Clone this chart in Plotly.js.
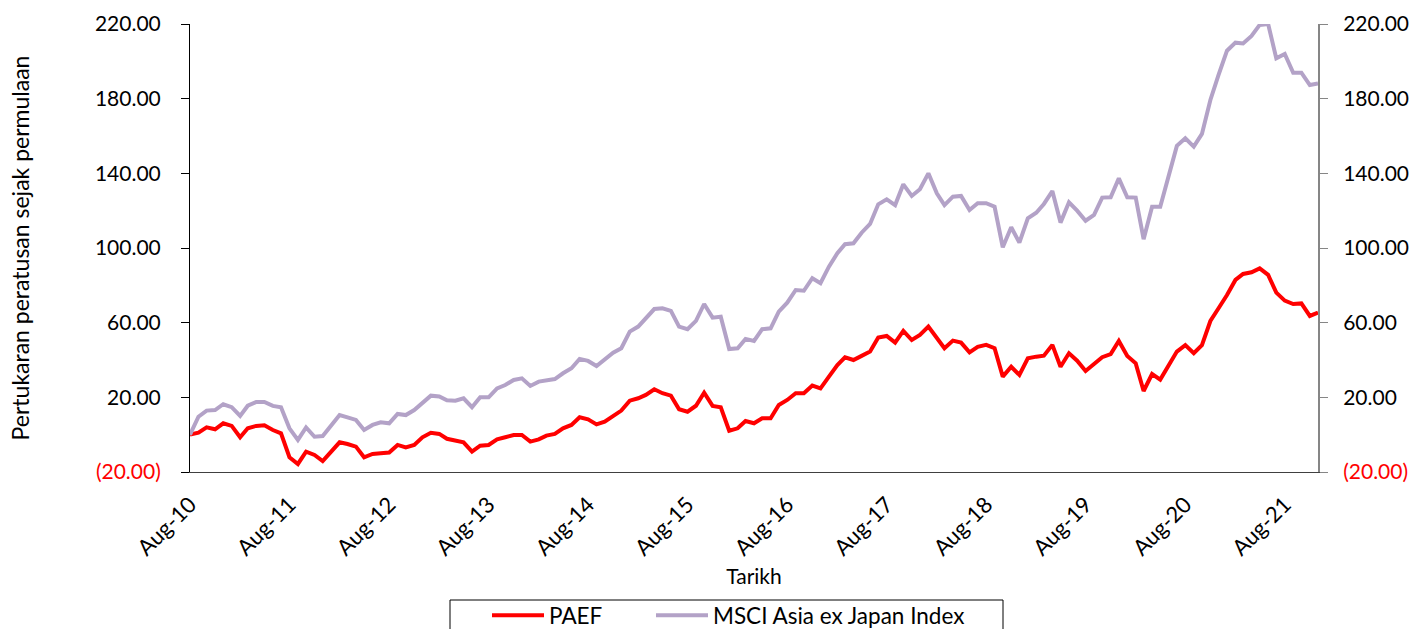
<!DOCTYPE html>
<html>
<head>
<meta charset="utf-8">
<script src="https://cdn.plot.ly/plotly-3.0.1.min.js"></script>
<style>
  html, body { margin: 0; padding: 0; background: #ffffff; }
  #chart { width: 1415px; height: 629px; }
</style>
</head>
<body>
<div id="chart"></div>
<script>
// Monthly observations, Aug-2010 .. Dec-2021 (percentage change since inception)
const startYear = 2010;
const startMonth = 8;   // August
const paef = [
  0, 1.1, 3.9, 2.9, 6.1, 4.7, -1.4, 3.4, 4.7, 5.0, 2.5, 0.7,
  -12.1, -15.7, -9.1, -10.9, -14.1, -9.1, -4.1, -5.0, -6.4, -12.1, -10.3, -10.0,
  -9.6, -5.5, -6.8, -5.5, -1.4, 1.0, 0.4, -2.2, -3.4, -4.1, -9.1, -5.9,
  -5.5, -2.5, -1.4, -0.2, -0.2, -3.7, -2.5, -0.5, 0.4, 3.4, 5.2, 9.3,
  8.2, 5.5, 7.0, 10.0, 12.9, 18.2, 19.5, 21.3, 24.3, 22.2, 20.9, 13.6,
  12.3, 15.5, 22.5, 15.4, 14.7, 2.1, 3.4, 7.3, 6.1, 8.8, 8.8, 15.9,
  18.6, 22.2, 22.2, 26.3, 24.8, 31.1, 37.3, 41.4, 40.0, 42.2, 44.5, 52.0,
  52.9, 49.3, 55.6, 50.7, 53.4, 57.9, 52.2, 46.3, 50.4, 49.3, 44.1, 47.1,
  48.1, 46.3, 31.1, 36.4, 32.0, 40.9, 41.8, 42.3, 48.1, 36.4, 43.6, 39.6,
  34.1, 37.7, 41.5, 43.2, 50.2, 42.2, 38.2, 23.4, 32.5, 29.5, 37.0, 44.5,
  48.0, 43.6, 48.0, 60.9, 67.7, 74.8, 82.9, 86.1, 87.0, 89.1, 85.6, 76.1,
  71.8, 70.0, 70.3, 63.6, 65.4
];
const msci = [
  0, 9.6, 12.9, 13.2, 16.3, 14.7, 10.0, 15.5, 17.5, 17.5, 15.4, 14.7,
  3.4, -2.8, 3.9, -1.1, -0.7, 5.2, 10.5, 9.3, 7.9, 2.5, 5.2, 6.6,
  6.1, 11.1, 10.5, 13.2, 17.1, 20.9, 20.5, 18.4, 18.2, 19.5, 14.7, 20.0,
  20.0, 24.8, 26.6, 29.3, 30.2, 26.1, 28.4, 29.0, 29.8, 32.9, 35.6, 40.6,
  39.5, 36.8, 40.0, 43.9, 46.3, 55.2, 57.9, 62.4, 67.3, 67.7, 66.3, 57.9,
  56.5, 61.0, 70.0, 62.7, 63.2, 45.9, 46.3, 51.3, 50.2, 56.5, 57.0, 65.9,
  70.7, 77.5, 77.1, 83.8, 81.1, 90.0, 97.2, 102.0, 102.5, 108.2, 112.9, 123.4,
  126.1, 123.0, 134.1, 127.9, 131.5, 140.0, 129.3, 123.0, 127.5, 127.9, 120.4, 124.0,
  124.0, 122.1, 100.4, 111.1, 102.9, 115.9, 118.9, 123.6, 130.5, 113.6, 124.5, 120.0,
  114.6, 117.7, 127.0, 127.2, 137.3, 127.2, 127.0, 104.7, 122.1, 122.1, 138.2, 154.7,
  158.8, 154.3, 161.1, 179.3, 192.7, 205.7, 210.0, 209.6, 213.6, 219.5, 220.0, 201.6,
  203.9, 193.9, 193.9, 187.3, 188.2
];
const seriesNames = ['PAEF', 'MSCI Asia ex Japan Index'];
const yTickVals = [-20, 20, 60, 100, 140, 180, 220];
const yTickText = ['<span style="color:#FF0000">(20.00)</span>', '20.00', '60.00', '100.00', '140.00', '180.00', '220.00'];

// month dates for the date axis
const dates = paef.map((_, i) => {
  const m0 = startMonth - 1 + i;
  const y = startYear + Math.floor(m0 / 12);
  const m = (m0 % 12) + 1;
  return y + '-' + String(m).padStart(2, '0') + '-01';
});

const FONT = 'Lato, "Open Sans", "Liberation Sans", sans-serif';

const traces = [
  { x: dates, y: paef, name: seriesNames[0], type: 'scatter', mode: 'lines',
    line: { color: '#FF0000', width: 4 }, xaxis: 'x', yaxis: 'y', legend: 'legend' },
  { x: dates, y: msci, name: seriesNames[1], type: 'scatter', mode: 'lines',
    line: { color: '#B3A2C7', width: 4 }, xaxis: 'x', yaxis: 'y', legend: 'legend2' },
  // invisible trace to activate the secondary (right) axis
  { x: [dates[0]], y: [null], type: 'scatter', mode: 'lines', showlegend: false,
    hoverinfo: 'skip', xaxis: 'x', yaxis: 'y2' }
];

const legendCommon = {
  orientation: 'h', xref: 'container', yref: 'container',
  xanchor: 'left', yanchor: 'top', y: 35 / 629,
  borderwidth: 0, bgcolor: 'rgba(0,0,0,0)',
  font: { family: FONT, size: 22.5, color: '#000000' },
  itemwidth: 52
};

const layout = {
  width: 1415, height: 629,
  paper_bgcolor: '#ffffff', plot_bgcolor: '#ffffff',
  margin: { l: 190, r: 97, t: 24, b: 157, pad: 0, autoexpand: false },
  font: { family: FONT, size: 21, color: '#000000' },
  showlegend: true,
  legend: Object.assign({}, legendCommon, { x: 487 / 1415 }),
  legend2: Object.assign({}, legendCommon, { x: 651 / 1415 }),
  shapes: [
    { type: 'rect', xref: 'paper', yref: 'paper',
      x0: (450 - 190) / 1128, x1: (1003 - 190) / 1128,
      y0: (472 - 600) / 448, y1: (472 - 645) / 448,
      line: { color: '#000000', width: 1 }, fillcolor: 'rgba(0,0,0,0)', layer: 'below' }
  ],
  xaxis: {
    type: 'date',
    range: [dates[0], dates[dates.length - 1]],
    tickmode: 'linear', tick0: dates[0], dtick: 'M12',
    tickformat: '%b-%y', tickangle: -45,
    ticks: '', showgrid: false, zeroline: false,
    showline: true, linecolor: '#404040', linewidth: 1,
    tickfont: { family: FONT, size: 22, color: '#000000' },
    ticklabelstandoff: 10,
    title: { text: 'Tarikh', font: { family: FONT, size: 21, color: '#000000' }, standoff: 9 },
    automargin: false
  },
  yaxis: {
    range: [-20, 220], tickmode: 'array', tickvals: yTickVals, ticktext: yTickText,
    ticks: 'outside', ticklen: 8, tickcolor: '#000000', tickwidth: 1,
    showline: true, linecolor: '#000000', linewidth: 1,
    showgrid: false, zeroline: false,
    tickfont: { family: FONT, size: 21, color: '#000000' },
    ticklabelstandoff: 16,
    title: { text: 'Pertukaran peratusan sejak permulaan',
             font: { family: FONT, size: 23, color: '#000000' }, standoff: 58 },
    automargin: false
  },
  yaxis2: {
    overlaying: 'y', side: 'right', anchor: 'x',
    range: [-20, 220], tickmode: 'array', tickvals: yTickVals, ticktext: yTickText,
    ticks: 'outside', ticklen: 8, tickcolor: '#868686', tickwidth: 1,
    showline: true, linecolor: '#868686', linewidth: 2,
    showgrid: false, zeroline: false,
    tickfont: { family: FONT, size: 21, color: '#000000' },
    ticklabelstandoff: 11,
    automargin: false
  }
};

Plotly.newPlot('chart', traces, layout, { displayModeBar: false, staticPlot: true });
</script>
</body>
</html>
